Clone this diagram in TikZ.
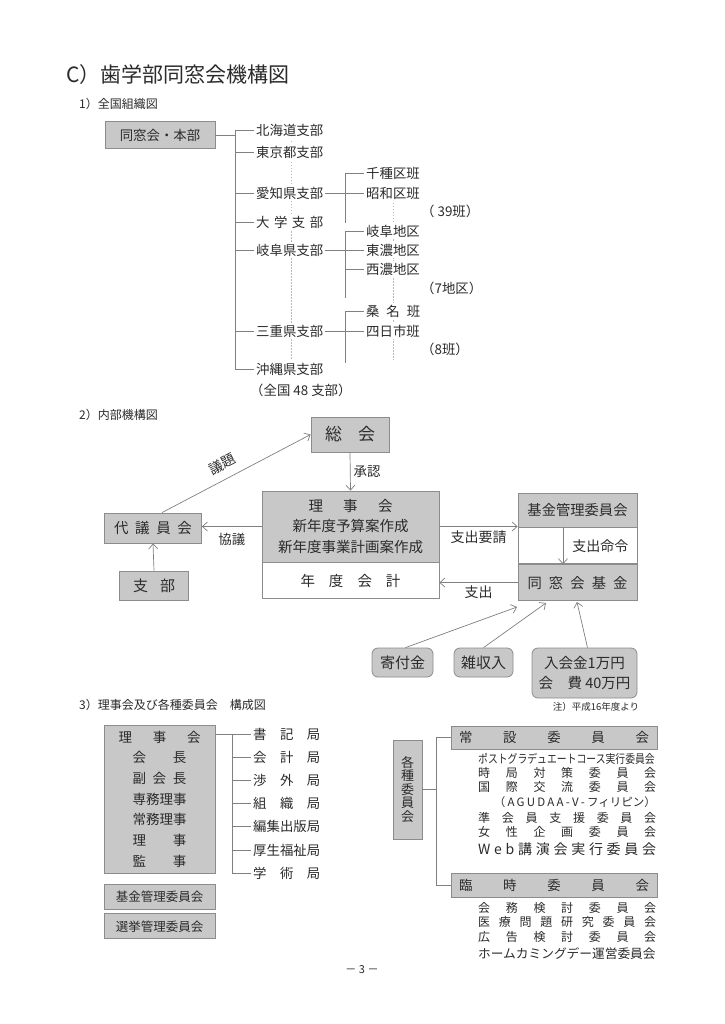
\documentclass[tikz,border=0pt]{standalone}
\usepackage{graphicx}
\usepackage{fontspec}
\setmainfont{Noto Sans CJK JP}
\usepackage{xcolor}
\usepackage{tikz}
\usetikzlibrary{positioning,arrows.meta}
\definecolor{tinta}{HTML}{2B2B2B}
\definecolor{relleno}{HTML}{C8C8C8}
\definecolor{borde}{HTML}{8C8C8C}
\definecolor{linea}{HTML}{808080}
\definecolor{punteado}{HTML}{BBBBBB}
\newcommand\fsz[1]{\fontsize{#1}{#1}\selectfont}
\newcommand\spreadtxt[2]{\makebox[#1pt][s]{#2}}

\begin{document}
\begin{tikzpicture}[x=1pt, y=-1pt, font=\fsz{13.4}, text=tinta,
  caja/.style={draw=borde, fill=relleno, line width=0.8pt, inner sep=0pt},
  hueco/.style={draw=borde, fill=white, line width=0.8pt, inner sep=0pt},
  lbl/.style={inner sep=0pt},
  rama/.style={inner sep=2pt, anchor=west, fill=white},
  ln/.style={draw=linea, line width=0.7pt},
  fl/.style={ln, -{Straight Barb[length=5pt, width=9pt]}},
  punt/.style={draw=punteado, line width=0.7pt, dash pattern=on 1.5pt off 1.5pt}]
  \fill[white] (0,0) rectangle (724,1024);
  \useasboundingbox (0,0) rectangle (724,1024);

  % 1) zenkoku
  \node[lbl, anchor=west, font=\fsz{21}] (titulo) at (66,75) {C）歯学部同窓会機構図};
  \node[lbl, anchor=west, font=\fsz{12}] (sec1) at (79,104) {1）全国組織図};
  \draw[punt] (291,141) -- (291,360);
  \draw[punt] (393,200) -- (393,360);
  \node[caja, minimum width=110, minimum height=27] (honbu) at (160,135) {同窓会・本部};
  \node[rama] (hokkaido) at (254,130) {北海道支部};
  \node[rama] (tokyo) at (254,152) {東京都支部};
  \node[rama] (aichi) at (254,193) {愛知県支部};
  \node[rama] (daigaku) at (254,222) {\spreadtxt{67}{大 学 支 部}};
  \node[rama] (gifu) at (254,250) {岐阜県支部};
  \node[rama] (mie) at (254,331) {三重県支部};
  \node[rama] (okinawa) at (254,369) {沖縄県支部};
  \node[lbl, anchor=west] (zenkoku) at (250,390) {（全国 48 支部）};
  \coordinate (tronco) at (235,135);
  \draw[ln] (honbu.east) -- (tronco);
  \draw[ln] (hokkaido.west -| tronco) -- (okinawa.west -| tronco);
  \draw[ln] (hokkaido.west -| tronco) -- (hokkaido.west);
  \draw[ln] (tokyo.west -| tronco) -- (tokyo.west);
  \draw[ln] (aichi.west -| tronco) -- (aichi.west);
  \draw[ln] (daigaku.west -| tronco) -- (daigaku.west);
  \draw[ln] (gifu.west -| tronco) -- (gifu.west);
  \draw[ln] (mie.west -| tronco) -- (mie.west);
  \draw[ln] (okinawa.west -| tronco) -- (okinawa.west);

  \node[rama] (chikusa) at (364,173) {千種区班};
  \node[rama] (showa) at (364,193) {昭和区班};
  \node[lbl, anchor=west] (han39) at (421,211) {（ 39班）};
  \node[rama] (gifuku) at (364,231) {岐阜地区};
  \node[rama] (tono) at (364,250) {東濃地区};
  \node[rama] (seino) at (364,269) {西濃地区};
  \node[lbl, anchor=west] (chiku7) at (421,288) {（7地区）};
  \node[rama] (kuwana) at (364,311) {\spreadtxt{54}{桑 名 班}};
  \node[rama] (yokkaichi) at (364,331) {四日市班};
  \node[lbl, anchor=west] (han8) at (421,349) {（8班）};
  \coordinate (sub1) at (345,223);
  \coordinate (sub2) at (345,298);
  \coordinate (sub3) at (345,363);
  \draw[ln] (aichi.east) -- (showa.west);
  \draw[ln] (chikusa.west -| sub1) -- (sub1);
  \draw[ln] (chikusa.west -| sub1) -- (chikusa.west);
  \draw[ln] (gifu.east) -- (tono.west);
  \draw[ln] (gifuku.west -| sub2) -- (sub2);
  \draw[ln] (gifuku.west -| sub2) -- (gifuku.west);
  \draw[ln] (seino.west -| sub2) -- (seino.west);
  \draw[ln] (mie.east) -- (yokkaichi.west);
  \draw[ln] (kuwana.west -| sub3) -- (sub3);
  \draw[ln] (kuwana.west -| sub3) -- (kuwana.west);

  % 2) naibu
  \node[lbl, anchor=west, font=\fsz{12}] (sec2) at (79,415) {2）内部機構図};
  \node[caja, minimum width=78, minimum height=35, font=\fsz{17}] (soukai) at (350,434.5) {\spreadtxt{50}{総 会}};
  \node[caja, minimum width=177, minimum height=71, align=center, font=\fontsize{14.5}{20.5}\selectfont] (rijikai) at (350.5,526.5)
    {\spreadtxt{84}{理 事 会}\\新年度予算案作成\\新年度事業計画案作成};
  \node[hueco, minimum width=177, minimum height=36, below=0pt of rijikai, font=\fsz{14.5}] (nendo) {\spreadtxt{100}{年 度 会 計}};
  \node[caja, minimum width=97, minimum height=30, font=\fsz{14.5}] (daigiin) at (153,528) {\spreadtxt{78}{代 議 員 会}};
  \node[caja, minimum width=69, minimum height=29, font=\fsz{15}] (shibu) at (154,585.5) {\spreadtxt{42}{支 部}};
  \node[caja, minimum width=119, minimum height=34, font=\fsz{14.3}] (kanri) at (577.5,510) {基金管理委員会};
  \node[hueco, minimum width=119, minimum height=36, below=0pt of kanri] (medio) {};
  \node[caja, minimum width=119, minimum height=36, below=0pt of medio, font=\fsz{14.3}] (kikin) {\spreadtxt{100}{同 窓 会 基 金}};
  \draw[fl] (soukai.south) -- node[lbl, right=3pt] {承認} (rijikai.north);
  \draw[fl] (rijikai.west) -- node[lbl, below=6pt] {協議} (rijikai.west -| daigiin.east);
  \draw[fl] (shibu.north) -- (daigiin.south);
  \draw[fl] ([xshift=9pt]daigiin.north) -- node[lbl, pos=0.45, sloped, above=8pt, font=\fsz{14}] {議題} (soukai.west);
  \draw[fl] (rijikai.east) -- node[lbl, below=4pt, font=\fsz{14}] {支出要請} (rijikai.east -| medio.west);
  \draw[fl] (kikin.west) -- node[lbl, below=3pt, font=\fsz{14}] {支出} (kikin.west -| nendo.east);
  \draw[fl] ([xshift=-14.5pt]kanri.south) -- node[lbl, right=9pt, font=\fsz{14}] {支出命令} ([xshift=-14.5pt]kikin.north);

  \node[caja, rounded corners=6pt, minimum width=61, minimum height=29, font=\fsz{15}] (kifu) at (402.5,662.5) {寄付金};
  \node[caja, rounded corners=6pt, minimum width=59, minimum height=29, font=\fsz{15}] (zatsu) at (483.5,662.5) {雑収入};
  \node[caja, rounded corners=6pt, minimum width=105, minimum height=50, align=center, font=\fontsize{14.5}{19.5}\selectfont] (nyukai) at (584.5,673)
    {入会金1万円\\会　費 40万円};
  \node[lbl, font=\fsz{9.5}] (chu) at (596,707) {注）平成16年度より};
  \coordinate (llegaA) at (517,607);
  \coordinate (llegaB) at (546,603);
  \coordinate (llegaC) at (577,602);
  \draw[fl] ([xshift=3pt]kifu.north) -- (llegaA);
  \draw[fl] (zatsu.north) -- (llegaB);
  \draw[fl] ([xshift=3pt]nyukai.north) -- (llegaC);

  % 3) kousei
  \node[lbl, anchor=west, font=\fsz{12}] (sec3) at (79,705) {3）理事会及び各種委員会　構成図};
  \node[caja, minimum width=111, minimum height=148, align=center, font=\fontsize{13.5}{20.67}\selectfont] (riji3) at (159.5,799)
    {\spreadtxt{82}{理 事 会}\\\spreadtxt{54}{会 長}\\\spreadtxt{54}{副 会 長}\\専務理事\\常務理事\\\spreadtxt{54}{理 事}\\\spreadtxt{54}{監 事}};
  \node[caja, minimum width=111, minimum height=25, font=\fsz{12.5}] (kanri3) at (159.5,896.5) {基金管理委員会};
  \node[caja, minimum width=111, minimum height=25, font=\fsz{12.5}, below=4pt of kanri3] (senkyo) {選挙管理委員会};
  \node[rama] (shoki) at (251,734) {\spreadtxt{67}{書 記 局}};
  \node[rama] (kaikei) at (251,757) {\spreadtxt{67}{会 計 局}};
  \node[rama] (shogai) at (251,780) {\spreadtxt{67}{渉 外 局}};
  \node[rama] (soshiki) at (251,803) {\spreadtxt{67}{組 織 局}};
  \node[rama] (henshu) at (251,826) {編集出版局};
  \node[rama] (kousei) at (251,850) {厚生福祉局};
  \node[rama] (gakujutsu) at (251,873) {\spreadtxt{67}{学 術 局}};
  \coordinate (tronco3) at (232,734);
  \draw[ln] (riji3.east |- shoki.west) -- (shoki.west);
  \draw[ln] (tronco3) -- (gakujutsu.west -| tronco3);
  \draw[ln] (kaikei.west -| tronco3) -- (kaikei.west);
  \draw[ln] (shogai.west -| tronco3) -- (shogai.west);
  \draw[ln] (soshiki.west -| tronco3) -- (soshiki.west);
  \draw[ln] (henshu.west -| tronco3) -- (henshu.west);
  \draw[ln] (kousei.west -| tronco3) -- (kousei.west);
  \draw[ln] (gakujutsu.west -| tronco3) -- (gakujutsu.west);

  \node[caja, minimum width=29, minimum height=99, align=center, font=\fontsize{13}{13.5}\selectfont] (kakushu) at (407.5,789.5) {各\\種\\委\\員\\会};
  \node[caja, minimum width=206, minimum height=23] (jousetsu) at (554,737.5) {\spreadtxt{190}{常 設 委 員 会}};
  \node[caja, minimum width=206, minimum height=24] (rinji) at (554,885.5) {\spreadtxt{190}{臨 時 委 員 会}};
  \coordinate (rama3) at (436,789.5);
  \draw[ln] (kakushu.east) -- (rama3);
  \draw[ln] (jousetsu.west -| rama3) -- (rinji.west -| rama3);
  \draw[ln] (jousetsu.west -| rama3) -- (jousetsu.west);
  \draw[ln] (rinji.west -| rama3) -- (rinji.west);

  \node[lbl, anchor=west, font=\fsz{12}] (post) at (478,759) {\scalebox{0.82}[1]{ポストグラデュエートコース実行委員会}};
  \node[lbl, anchor=west, font=\fsz{12}] (jikyoku) at (478,773) {\spreadtxt{178}{時 局 対 策 委 員 会}};
  \node[lbl, anchor=west, font=\fsz{12}] (kokusai) at (478,787) {\spreadtxt{178}{国 際 交 流 委 員 会}};
  \node[lbl, anchor=east, font=\fsz{11.5}] (agudaa) at (656,802) {\spreadtxt{162}{（ A G U D A A - V - フィリピン）}};
  \node[lbl, anchor=west, font=\fsz{12}] (junkai) at (478,818) {\spreadtxt{178}{準 会 員 支 援 委 員 会}};
  \node[lbl, anchor=west, font=\fsz{12}] (josei) at (478,832) {\spreadtxt{178}{女 性 企 画 委 員 会}};
  \node[lbl, anchor=west, font=\fsz{14}] (web) at (478,849) {\spreadtxt{178}{W e b 講 演 会 実 行 委 員 会}};
  \node[lbl, anchor=west, font=\fsz{12}] (kaimu) at (478,908) {\spreadtxt{178}{会 務 検 討 委 員 会}};
  \node[lbl, anchor=west, font=\fsz{12}] (iryo) at (478,922) {\spreadtxt{178}{医 療 問 題 研 究 委 員 会}};
  \node[lbl, anchor=west, font=\fsz{12}] (koukoku) at (478,937) {\spreadtxt{178}{広 告 検 討 委 員 会}};
  \node[lbl, anchor=west, font=\fsz{12.7}] (home) at (478,954) {ホームカミングデー運営委員会};

  \node[lbl, font=\fsz{11}] (pagina) at (362,970) {－ 3 －};
\end{tikzpicture}
\end{document}
